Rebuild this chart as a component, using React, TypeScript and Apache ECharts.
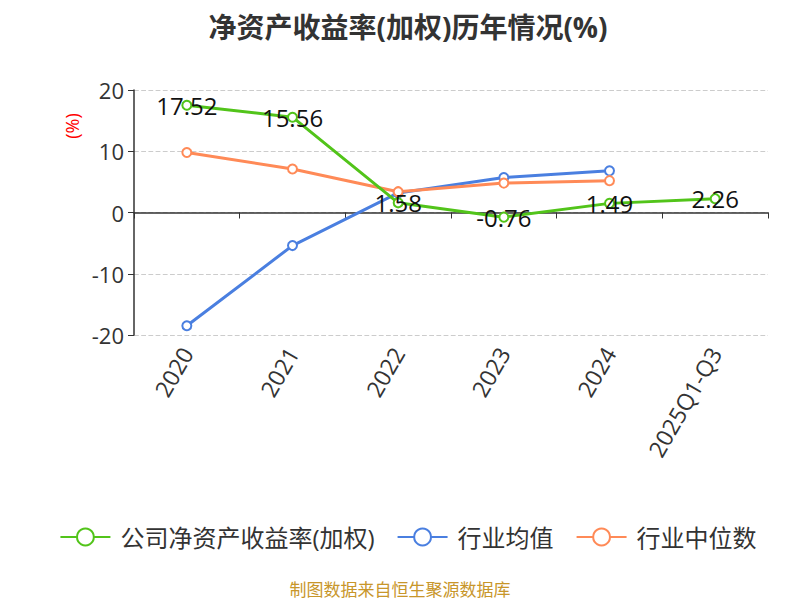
import React, { useEffect, useRef } from "react";
import * as echarts from "echarts";

const categories = ["2020", "2021", "2022", "2023", "2024", "2025Q1-Q3"];
const companyRoe = [17.52, 15.56, 1.58, -0.76, 1.49, 2.26];
const industryAvg = [-18.5, -5.4, 3.2, 5.7, 6.8, null];
const industryMedian = [9.8, 7.1, 3.4, 4.8, 5.2, null];
const yTicks = { min: -20, max: 20, interval: 10 };

export default function App() {
  const ref = useRef<HTMLDivElement>(null);
  useEffect(() => {
    if (!ref.current) return;
    const chart = echarts.init(ref.current, null, { renderer: "svg" });
    const font = "'Open Sans', 'Noto Sans CJK SC', sans-serif";
    chart.setOption({
      animation: false,
      textStyle: { fontFamily: font },
      title: {
        text: "净资产收益率(加权)历年情况(%)",
        left: "center",
        top: 0,
        textStyle: { fontSize: 28, fontWeight: "bold", color: "#333", fontFamily: font },
      },
      grid: { left: 126, right: 40, top: 82, bottom: 273, containLabel: false },
      legend: {
        top: 512,
        left: "center",
        itemWidth: 50,
        itemHeight: 21,
        itemGap: 22,
        textStyle: { fontSize: 24, color: "#333", fontFamily: font, padding: [0, 0, 0, 5] },
        data: ["公司净资产收益率(加权)", "行业均值", "行业中位数"],
      },
      graphic: [
        {
          type: "text",
          x: 64,
          y: 118,
          rotation: Math.PI / 2,
          style: {
            text: "(%)",
            fill: "red",
            font: `18px ${font}`,
            textAlign: "center",
            textVerticalAlign: "middle",
          },
        },
        {
          type: "text",
          x: 392,
          y: 581,
          style: {
            text: "制图数据来自恒生聚源数据库",
            fill: "#c8962a",
            font: `17px ${font}`,
            textAlign: "center",
            textVerticalAlign: "middle",
          },
        },
      ],
      xAxis: {
        type: "category",
        data: categories,
        axisLine: { onZero: true, lineStyle: { color: "#333", width: 1.5 } },
        axisTick: { show: true, length: 6, lineStyle: { color: "#333" } },
        axisLabel: {
          rotate: 60,
          fontSize: 23,
          color: "#333",
          margin: 14,
          fontFamily: font,
        },
        position: "bottom",
      },
      yAxis: {
        type: "value",
        min: yTicks.min,
        max: yTicks.max,
        interval: yTicks.interval,
        axisLine: { show: true, lineStyle: { color: "#333", width: 1.5 } },
        axisTick: { show: true, length: 6, lineStyle: { color: "#333" } },
        axisLabel: { fontSize: 22, color: "#333", margin: 10, fontFamily: font },
        splitLine: { lineStyle: { type: "dashed", color: "#ccc", width: 1.2 } },
      },
      series: [
        {
          name: "公司净资产收益率(加权)",
          type: "line",
          data: companyRoe,
          symbol: "emptyCircle",
          symbolSize: 9,
          color: "#52c41a",
          lineStyle: { width: 3 },
          label: {
            show: true,
            position: "inside",
            fontSize: 24,
            color: "#111",
            fontFamily: font,
          },
          z: 3,
        },
        {
          name: "行业均值",
          type: "line",
          data: industryAvg,
          symbol: "emptyCircle",
          symbolSize: 9,
          color: "#4a7fe0",
          lineStyle: { width: 3 },
          z: 2,
        },
        {
          name: "行业中位数",
          type: "line",
          data: industryMedian,
          symbol: "emptyCircle",
          symbolSize: 9,
          color: "#ff8a57",
          lineStyle: { width: 3 },
          z: 2,
        },
      ],
    });
    return () => chart.dispose();
  }, []);
  return <div ref={ref} style={{ width: 800, height: 600 }} />;
}
